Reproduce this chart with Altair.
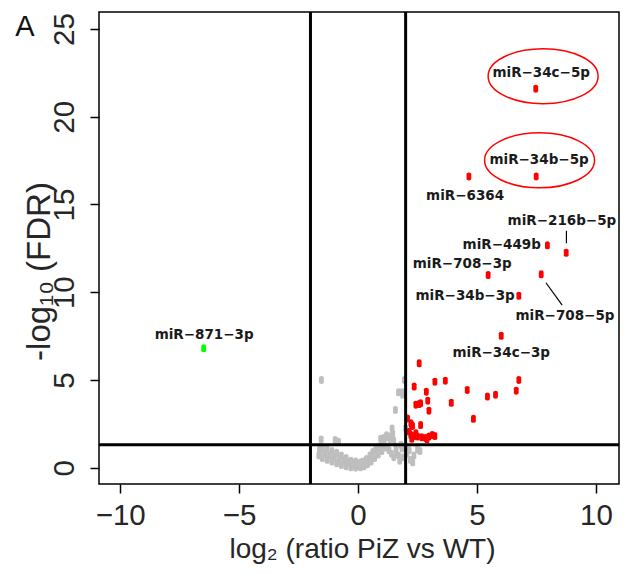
import altair as alt
import pandas as pd

# ---- data ----
grey_x = [-1.54, 1.95, 1.85, 1.88, 1.70, 1.57, 1.43, 2.0, 1.46, 1.39,
          -0.96, -0.82, -1.55,
          -1.65, -1.5, -1.3, -1.1, -0.9, -0.7, -0.5, -0.3, -0.1,
          -1.6, -1.4, -1.2, -1.0, -0.8, -0.6, -0.4, -0.2, 0.0,
          -1.62, -1.5, -1.3, -1.1, -0.9, -0.7, -0.5, -0.3, -0.1, 0.1,
          0.1, 0.25, 0.4, 0.55, 0.7, 0.85, 1.0, 1.15,
          0.2, 0.35, 0.5, 0.62, 0.75, 0.88, 1.0, 1.1,
          0.3, 0.45, 0.6, 0.75, 0.9, 1.05,
          0.95, 1.1, 1.25, 1.4, 1.2, 1.35, 1.5,
          1.2, 1.3, 1.4, 1.5, 1.6, 1.7, 1.75, 1.85, 1.9, 2.05, 2.15, 2.2,
          2.35, 2.5, 2.6, 1.6, 1.8, 2.0, 2.3]
grey_y = [5.0, 5.0, 4.3, 4.15, 4.3, 3.29, 2.24, 2.24, 1.95, 1.77,
          1.58, 1.48, 1.6,
          0.7, 0.55, 0.45, 0.35, 0.25, 0.15, 0.08, 0.02, 0.0,
          0.95, 0.8, 0.7, 0.6, 0.5, 0.4, 0.3, 0.2, 0.15,
          1.1, 1.1, 1.05, 0.95, 0.85, 0.7, 0.55, 0.4, 0.35, 0.3,
          0.02, 0.08, 0.2, 0.35, 0.55, 0.75, 0.95, 1.15,
          0.35, 0.5, 0.7, 0.9, 1.05, 1.2, 1.35, 1.5,
          0.25, 0.4, 0.6, 0.8, 1.0, 1.15,
          1.65, 1.7, 1.75, 1.8, 1.85, 1.6, 1.55,
          1.2, 1.0, 0.8, 0.6, 0.9, 0.7, 0.4, 1.1, 0.6, 0.8, 1.0, 0.45,
          0.7, 1.05, 0.95, 1.2, 1.3, 1.15, 0.3]

red_x = [7.47, 7.49, 4.66, 7.96, 8.75, 5.47, 7.70, 6.76, 6.02,
         2.57, 3.23, 3.67, 2.36, 2.87, 4.59, 6.76, 6.65, 5.44, 5.78,
         3.92, 2.93, 2.43, 2.57, 2.63, 2.98, 4.85, 2.08, 2.26, 2.63,
         2.15, 2.22, 2.36, 2.50, 2.68, 2.84, 2.98, 3.12, 3.23, 2.43,
         2.26, 2.90, 2.22, 2.29]
red_y = [21.6, 16.6, 16.6, 12.67, 12.25, 10.98, 11.02, 9.80, 7.52,
         5.95, 4.90, 4.96, 4.62, 4.33, 4.43, 5.00, 4.39, 4.05, 4.16,
         3.70, 3.82, 3.59, 3.63, 3.67, 3.25, 2.79, 2.81, 2.43, 2.43,
         2.05, 1.86, 1.80, 1.77, 1.73, 1.69, 1.77, 1.86, 1.80, 1.96,
         1.65, 1.62, 2.53, 2.38]

green_x = [-6.49]
green_y = [6.80]

label_text = ["miR\u221234c\u22125p", "miR\u221234b\u22125p", "miR\u22126364",
              "miR\u2212216b\u22125p", "miR\u2212449b", "miR\u2212708\u22123p",
              "miR\u221234b\u22123p", "miR\u2212708\u22125p", "miR\u221234c\u22123p",
              "miR\u2212871\u22123p"]
label_x = [7.70, 7.61, 4.50, 8.57, 6.04, 4.38, 4.50, 8.70, 6.02, -6.47]
label_y = [22.48, 17.52, 15.48, 14.06, 12.69, 11.60, 9.79, 8.64, 6.54, 7.56]

ellipse_x = [7.78, 7.63]
ellipse_y = [22.31, 17.52]

conn_x = [8.76, 7.90]
conn_y = [13.50, 10.54]
conn_x2 = [8.76, 8.58]
conn_y2 = [12.79, 9.27]

fc_cut = [-2, 2]
fdr_cut = [1.30]

x_ticks = [-10, -5, 0, 5, 10]
y_ticks = [0, 5, 10, 15, 20, 25]
x_domain = [-10.89, 10.97]
y_domain = [-0.93, 25.97]
panel_label = ["A"]

# ---- tables ----
grey_df = pd.DataFrame({"x": grey_x, "y": grey_y})
red_df = pd.DataFrame({"x": red_x, "y": red_y})
green_df = pd.DataFrame({"x": green_x, "y": green_y})
lab_df = pd.DataFrame({"x": label_x, "y": label_y, "t": label_text})
ell_df = pd.DataFrame({"x": ellipse_x, "y": ellipse_y})
conn_df = pd.DataFrame({"x": conn_x, "y": conn_y, "x2": conn_x2, "y2": conn_y2})
vcut_df = pd.DataFrame({"x": fc_cut})
hcut_df = pd.DataFrame({"y": fdr_cut})
panel_df = pd.DataFrame({"t": panel_label})

W, H = 520, 472

xs = alt.Scale(domain=x_domain, nice=False, zero=False)
ys = alt.Scale(domain=y_domain, nice=False, zero=False)

tick_font = "Liberation Sans"

x_axis = alt.Axis(values=x_ticks, grid=False, domain=False, tickSize=9, tickWidth=1.5,
                  tickColor="black", labelFontSize=29.5, labelFont=tick_font,
                  labelColor="#262626", labelPadding=8,
                  labelExpr="replace(datum.label, '-', '\u2212')",
                  title="log\u2082 (ratio PiZ vs WT)", titleFont=tick_font,
                  titleFontSize=28, titleFontWeight="normal", titleColor="#262626",
                  titleX=263, titleY=73, titleAlign="center",
                  titleBaseline="alphabetic")
y_axis = alt.Axis(values=y_ticks, grid=False, domain=False, tickSize=9, tickWidth=1.5,
                  tickColor="black", labelFontSize=29.5, labelFont=tick_font,
                  labelColor="#262626", labelPadding=17, labelAngle=270,
                  labelAlign="center", labelBaseline="alphabetic",
                  title="-log\u2081\u2080 (FDR)", titleFont=tick_font,
                  titleFontSize=33, titleFontWeight="normal", titleColor="#262626",
                  titleAngle=270, titleX=-50, titleY=259, titleAlign="center",
                  titleBaseline="alphabetic")

pt_shape = "M-0.6,-0.6 Q-0.6,-1 0,-1 Q0.6,-1 0.6,-0.6 L0.6,0.6 Q0.6,1 0,1 Q-0.6,1 -0.6,0.6 Z"
ell_shape = ("M-1,0 C-1,-0.276 -0.552,-0.5 0,-0.5 C0.552,-0.5 1,-0.276 1,0 "
             "C1,0.276 0.552,0.5 0,0.5 C-0.552,0.5 -1,0.276 -1,0 Z")

X = alt.X("x:Q", scale=xs, axis=x_axis)
Y = alt.Y("y:Q", scale=ys, axis=y_axis)

grey = alt.Chart(grey_df).mark_point(shape=pt_shape, size=64, filled=True, opacity=1,
                                     color="#BEBEBE").encode(x=X, y=Y)
red = alt.Chart(red_df).mark_point(shape=pt_shape, size=64, filled=True, opacity=1,
                                   color="#FF0000").encode(x=X, y=Y)
green = alt.Chart(green_df).mark_point(shape=pt_shape, size=64, filled=True, opacity=1,
                                       color="#00FF00").encode(x=X, y=Y)
vlines = alt.Chart(vcut_df).mark_rule(color="black", strokeWidth=3).encode(x=X)
hlines = alt.Chart(hcut_df).mark_rule(color="black", strokeWidth=3).encode(y=Y)
conns = alt.Chart(conn_df).mark_rule(color="black", strokeWidth=1.2).encode(
    x=X, y=Y, x2="x2:Q", y2="y2:Q")
labels = alt.Chart(lab_df).mark_text(font="DejaVu Sans", fontWeight="bold", fontSize=13.5,
                                     color="#1a1a1a", align="center",
                                     baseline="middle").encode(x=X, y=Y, text="t:N")
ells = alt.Chart(ell_df).mark_point(shape=ell_shape, size=12100, filled=False, opacity=1,
                                    color="#FF0000", strokeWidth=1.5).encode(x=X, y=Y)
panel = alt.Chart(panel_df).mark_text(font=tick_font, fontSize=29, color="#111111",
                                      align="center", baseline="alphabetic").encode(
    x=alt.value(-74), y=alt.value(24), text="t:N")

chart = alt.layer(grey, red, green, vlines, hlines, conns, labels, ells, panel).properties(
    width=W, height=H,
    autosize=alt.AutoSizeParams(type="none"),
    padding={"left": 91, "top": 4, "right": 1, "bottom": 80},
).configure_view(stroke="black", strokeWidth=1.5)

chart.save("out.html", embed_options={"renderer": "svg", "actions": False})
